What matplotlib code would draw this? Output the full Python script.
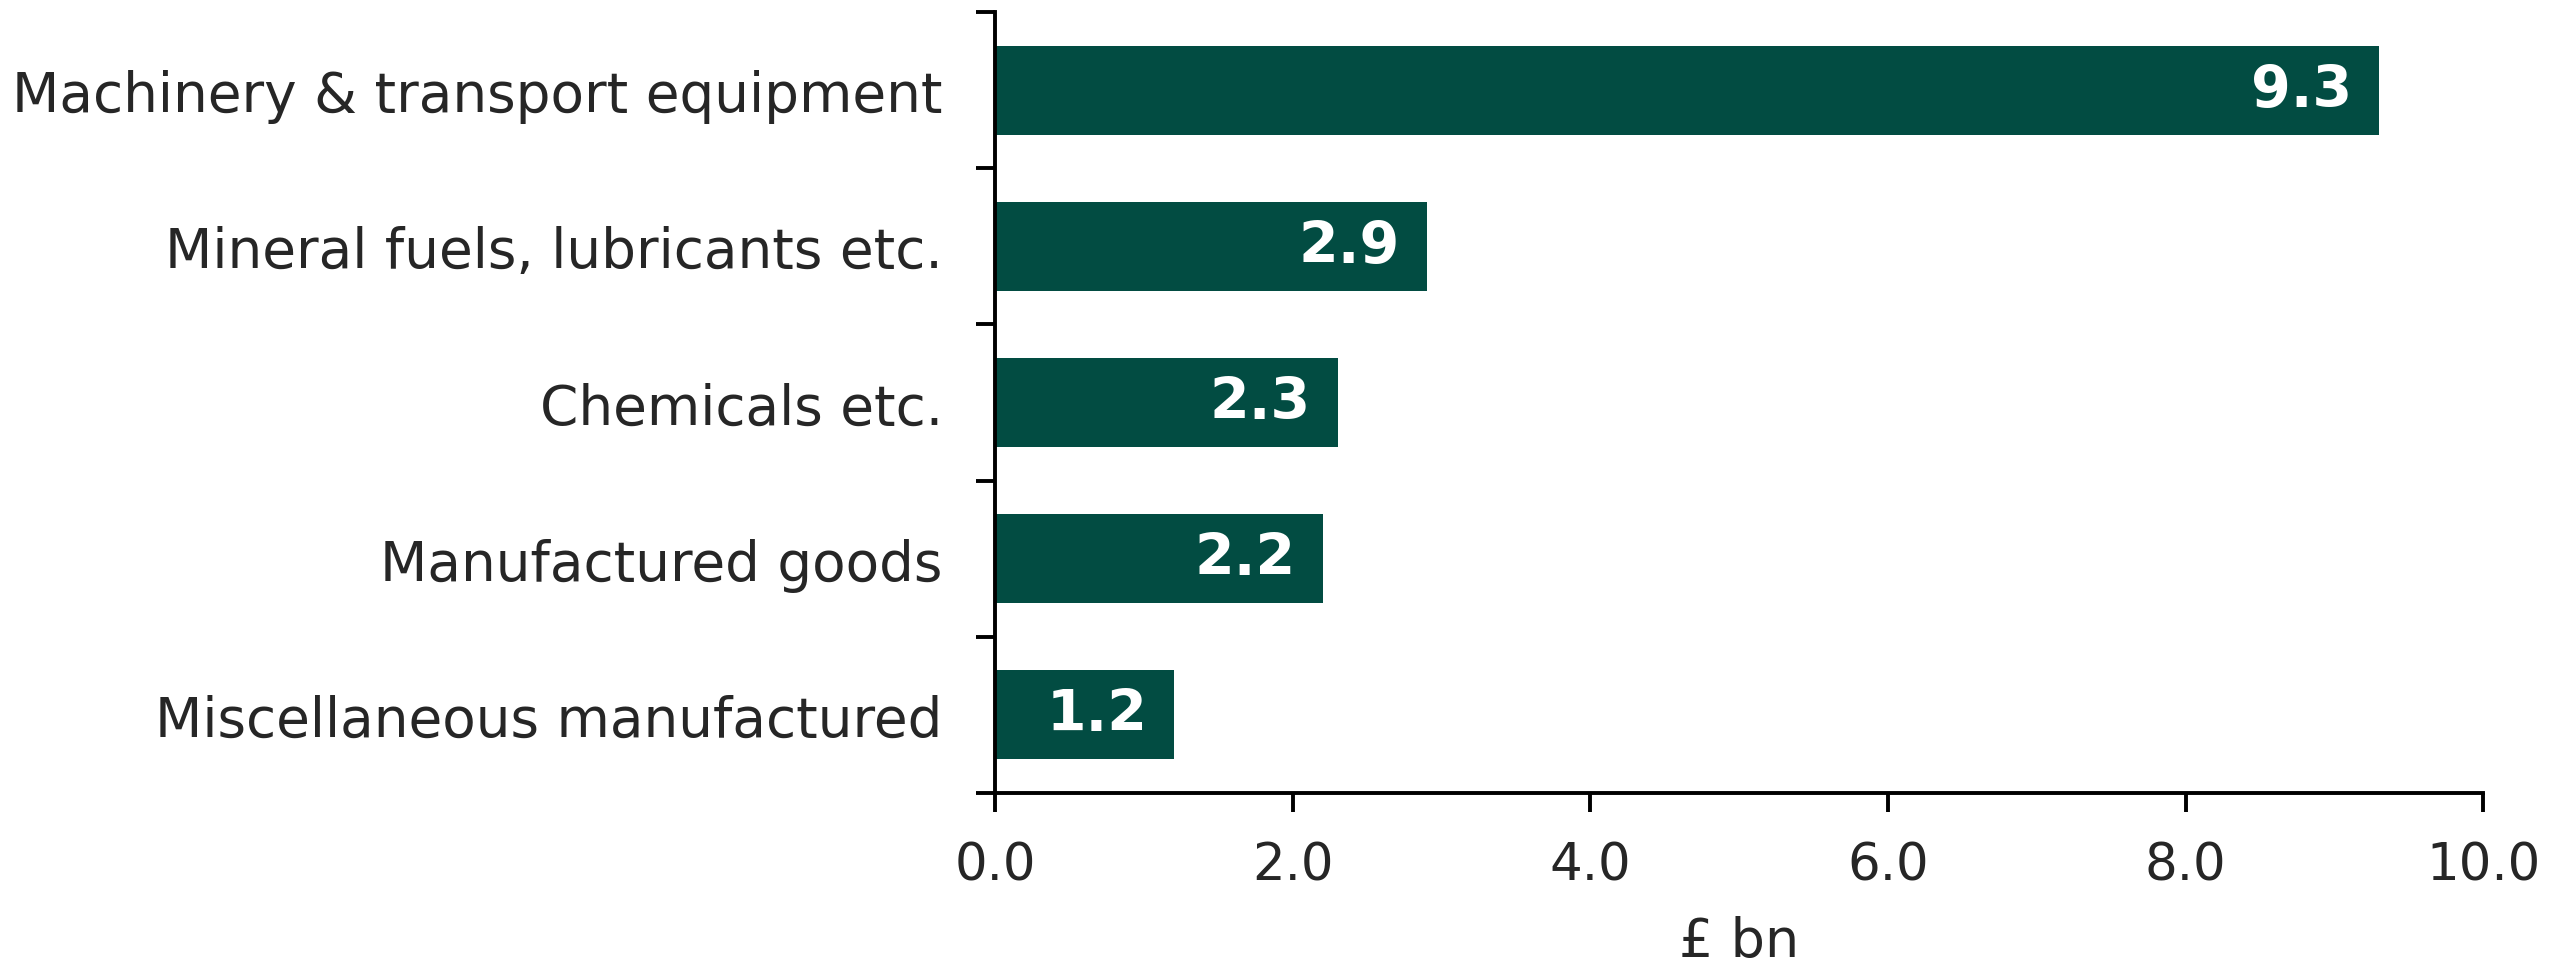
import matplotlib.pyplot as plt
import numpy as np

categories = ['Machinery & transport equipment', 'Mineral fuels, lubricants etc.',
              'Chemicals etc.', 'Manufactured goods', 'Miscellaneous manufactured']
values = [9.3, 2.9, 2.3, 2.2, 1.2]
xticks = [0.0, 2.0, 4.0, 6.0, 8.0, 10.0]

green = '#024C42'
grey = '#262626'

plt.rcParams['font.family'] = ['DejaVu Sans']

fig = plt.figure(figsize=(25.63, 9.79), dpi=100)
ax = fig.add_axes([0.3884, 0.189, 0.5804, 0.7977])

n = len(categories)
y = np.arange(n)[::-1]
ax.barh(y, values, height=0.57, color=green, zorder=2)

for yi, v in zip(y, values):
    ax.text(v - 0.18, yi, f'{v:.1f}', ha='right', va='center', color='white',
            fontsize=41, fontweight='heavy')

ax.set_xlim(0, 10)
ax.set_ylim(-0.5, n - 0.5)

ax.set_xticks(xticks)
ax.set_xticklabels([f'{t:.1f}' for t in xticks])
ax.set_yticks(np.arange(n + 1) - 0.5)
ax.set_yticklabels([])
ax.set_yticks(y, minor=True)
ax.set_yticklabels(categories, minor=True)

ax.tick_params(axis='both', which='major', length=14, width=2.8, color='black')
ax.tick_params(axis='x', labelsize=37, labelcolor=grey, pad=20)
ax.tick_params(axis='y', which='minor', length=0, labelsize=39.5, labelcolor=grey, pad=38)

for s in ['top', 'right']:
    ax.spines[s].set_visible(False)
for s in ['left', 'bottom']:
    ax.spines[s].set_linewidth(2.8)

ax.set_xlabel('£ bn', fontsize=39, color=grey, labelpad=18)

fig.savefig('out.png', dpi=100)
